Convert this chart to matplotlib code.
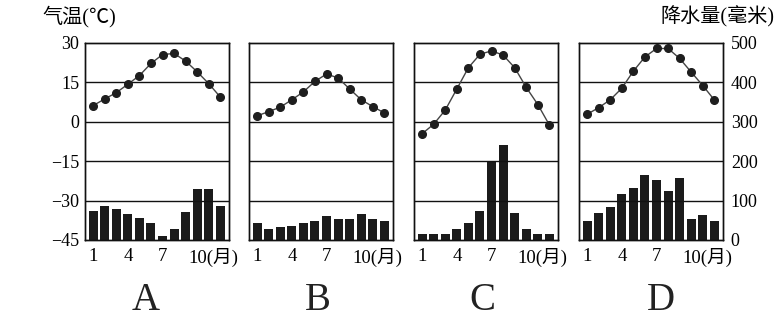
import matplotlib.pyplot as plt
import matplotlib.transforms as mtransforms
import numpy as np

plt.rcParams['font.family'] = ['Liberation Serif', 'Noto Sans CJK SC']

months = np.arange(1, 13)
names = ['A', 'B', 'C', 'D']

# monthly mean temperature, deg C
temp_a = [6.1, 8.6, 11.0, 14.2, 17.5, 22.1, 25.5, 25.9, 23.0, 18.9, 14.4, 9.3]
temp_b = [2.2, 3.8, 5.5, 8.3, 11.3, 15.3, 18.1, 16.6, 12.4, 8.3, 5.7, 3.3]
temp_c = [-4.6, -1.0, 4.4, 12.4, 20.5, 25.6, 26.9, 25.3, 20.5, 13.0, 6.5, -1.3]
temp_d = [2.8, 5.3, 8.3, 12.7, 19.2, 24.6, 27.8, 27.8, 24.0, 18.8, 13.7, 8.2]

# monthly precipitation, mm
rain_a = [74, 86, 79, 67, 57, 43, 11, 27, 70, 128, 128, 87]
rain_b = [42, 28, 34, 36, 43, 48, 61, 53, 52, 65, 53, 49]
rain_c = [15, 15, 15, 27, 42, 74, 200, 240, 68, 27, 15, 15]
rain_d = [48, 69, 83, 117, 132, 165, 151, 124, 158, 53, 64, 49]

temps = [temp_a, temp_b, temp_c, temp_d]
rains = [rain_a, rain_b, rain_c, rain_d]

t_ticks = [30, 15, 0, -15, -30, -45]
r_ticks = [500, 400, 300, 200, 100, 0]

W, H = 784, 327
fig = plt.figure(figsize=(W / 100, H / 100), dpi=100)

lefts = [85, 249, 414, 579]
name_x = [146, 318, 482, 661]
pw, top, bot = 143.5, 42.7, 240

for i in range(4):
    ax = fig.add_axes([lefts[i] / W, (H - bot) / H, pw / W, (bot - top) / H])
    ax2 = ax.twinx()
    ax.set_ylim(-45, 30)
    ax2.set_ylim(0, 500)
    ax.set_xlim(0.3, 12.7)

    ax2.bar(months, rains[i], width=0.78, color='#1b1b1b', zorder=2)
    ax.plot(months, temps[i], color='#444444', lw=1.0, marker='o', ms=5.5,
            mfc='#1e1e1e', mec='#1e1e1e', zorder=3)
    ax.set_zorder(ax2.get_zorder() + 1)
    ax.patch.set_visible(False)

    for v in [15, 0, -15, -30]:
        ax.axhline(v, color='#111111', lw=1.0, zorder=1)

    ax.set_yticks(t_ticks)
    ax2.set_yticks(r_ticks)
    ax.set_xticks([1, 4, 7, 10])
    ax.set_xticklabels(['1', '4', '7', '10(月)'], fontsize=13.5)
    ax.tick_params(axis='x', length=0, pad=6)
    ax.tick_params(axis='y', length=0, pad=4, labelsize=13)
    ax2.tick_params(axis='y', length=0, pad=6, labelsize=13)
    # "10" sits over month 10, "(月)" trails to the right
    lab = ax.get_xticklabels()[3]
    lab.set_ha('left')
    lab.set_transform(lab.get_transform() +
                      mtransforms.ScaledTranslation(-9 / 100, 0, fig.dpi_scale_trans))
    if i == 0:
        ax.set_yticklabels([str(t).replace('-', '\u2212') for t in t_ticks])
    else:
        ax.set_yticklabels([])
    if i != 3:
        ax2.set_yticklabels([])
    for a in (ax, ax2):
        for s in a.spines.values():
            s.set_linewidth(1.0)
            s.set_color('#111111')

    fig.text(name_x[i] / W, 1 - 300 / H, names[i], ha='center', va='center',
             fontsize=28, family='Liberation Serif', color='#222222')

fig.text(42 / W, 1 - 17 / H, '气温(℃)', ha='left', va='center', fontsize=14.5,
         family=['Liberation Serif', 'Noto Sans CJK SC'])
fig.text(660 / W, 1 - 17 / H, '降水量(毫米)', ha='left', va='center', fontsize=14.5,
         family=['Liberation Serif', 'Noto Sans CJK SC'])

fig.savefig('out.png', dpi=100)
